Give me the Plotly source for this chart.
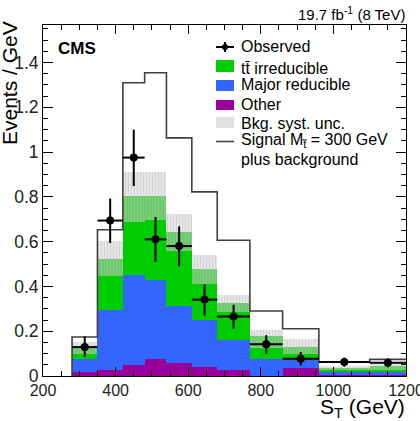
import plotly.graph_objects as go

# ---------------- data ----------------
bin_edges = [280, 350, 420, 480, 540, 610, 680, 770, 860, 960, 1100, 1200]
other = [0.017, 0.025, 0.047, 0.074, 0.057, 0.042, 0.028, 0.000, 0.037, 0.005, 0.005]
major_reducible = [0.060, 0.271, 0.405, 0.353, 0.255, 0.206, 0.131, 0.077, 0.035, 0.012, 0.013]
ttbar_irreducible = [0.049, 0.228, 0.350, 0.375, 0.331, 0.228, 0.168, 0.100, 0.058, 0.020, 0.026]
syst_low = [0.099, 0.445, 0.688, 0.695, 0.557, 0.412, 0.285, 0.126, 0.100, 0.027, 0.028]
syst_high = [0.151, 0.601, 0.911, 0.911, 0.725, 0.539, 0.360, 0.206, 0.163, 0.045, 0.062]
signal_plus_bkg = [0.174, 0.653, 1.309, 1.354, 1.063, 0.822, 0.606, 0.290, 0.211, 0.062, 0.074]
observed = [0.129, 0.694, 0.975, 0.610, 0.580, 0.341, 0.266, 0.142, 0.077, 0.062, 0.059]
obs_err_up = [0.048, 0.098, 0.125, 0.100, 0.088, 0.068, 0.052, 0.040, 0.030, 0.020, 0.020]
obs_err_dn = [0.044, 0.100, 0.127, 0.100, 0.090, 0.071, 0.055, 0.043, 0.030, 0.020, 0.020]
x_ticks = [200, 400, 600, 800, 1000, 1200]
y_ticks = [0, 0.2, 0.4, 0.6, 0.8, 1.0, 1.2, 1.4]

# ---------------- derived ----------------
centers = [(a + b) / 2 for a, b in zip(bin_edges[:-1], bin_edges[1:])]
widths = [b - a for a, b in zip(bin_edges[:-1], bin_edges[1:])]
half = [w / 2 for w in widths]
base_major = other[:]
base_tt = [o + m for o, m in zip(other, major_reducible)]
band_h = [h - l for l, h in zip(syst_low, syst_high)]

C_TT = "#00cc00"
C_MAJ = "#3366ff"
C_OTH = "#990099"
C_SIG = "#404040"
FONT = "Liberation Sans, Arial, Helvetica, sans-serif"

W, H = 420, 421
L, R, T, B = 43, 14, 25, 45


def fx(px):
    return (px - L) / (W - L - R)


def fy(py):
    return (H - B - py) / (H - T - B)


fig = go.Figure()
fig.add_bar(x=centers, y=other, width=widths, base=0,
            marker=dict(color=C_OTH, line=dict(width=0)), showlegend=False)
fig.add_bar(x=centers, y=major_reducible, width=widths, base=base_major,
            marker=dict(color=C_MAJ, line=dict(width=0)), showlegend=False)
fig.add_bar(x=centers, y=ttbar_irreducible, width=widths, base=base_tt,
            marker=dict(color=C_TT, line=dict(width=0)), showlegend=False)
fig.add_bar(x=centers, y=band_h, width=widths, base=syst_low,
            marker=dict(color="rgba(205,205,205,0.5)", line=dict(width=0),
                        pattern=dict(shape="|", fillmode="replace",
                                     bgcolor="rgba(205,205,205,0.5)",
                                     fgcolor="rgba(185,185,185,0.45)",
                                     size=3, solidity=0.35)),
            showlegend=False)

# signal + background step outline
xs = [bin_edges[0]] + bin_edges
ys = [0] + signal_plus_bkg + [signal_plus_bkg[-1]]
fig.add_scatter(x=xs, y=ys, mode="lines", line=dict(color=C_SIG, width=1.6, shape="hv"),
                showlegend=False, hoverinfo="skip")

# observed
fig.add_scatter(x=centers, y=observed, mode="markers",
                marker=dict(color="black", size=8),
                error_y=dict(type="data", symmetric=False, array=obs_err_up,
                             arrayminus=obs_err_dn, color="black", thickness=2, width=0),
                error_x=dict(type="data", array=half, color="black", thickness=2, width=0),
                showlegend=False)

axis_common = dict(showgrid=False, zeroline=False, showline=True, linecolor="black",
                   linewidth=1, mirror="ticks", ticks="inside", tickcolor="black",
                   tickwidth=1, ticklabeloverflow="allow", automargin=False)
fig.update_xaxes(range=[200, 1200], tickvals=x_ticks, ticklen=9,
                 tickfont=dict(family=FONT, size=16, color="#222"),
                 minor=dict(dtick=50, ticks="inside", ticklen=5, tickcolor="black"),
                 **axis_common)
fig.update_yaxes(range=[0, 1.567], tickvals=y_ticks, ticklen=10,
                 tickfont=dict(family=FONT, size=17.5, color="#222"),
                 minor=dict(dtick=0.05, ticks="inside", ticklen=5, tickcolor="black"),
                 **axis_common)

shapes = []
ann = []
LEG_SIZE = 16
tx = 239
# Observed
shapes.append(dict(type="line", xref="paper", yref="paper", x0=fx(216), x1=fx(234),
                   y0=fy(47), y1=fy(47), line=dict(color="black", width=2)))
shapes.append(dict(type="line", xref="paper", yref="paper", x0=fx(225), x1=fx(225),
                   y0=fy(42), y1=fy(52), line=dict(color="black", width=2)))
shapes.append(dict(type="circle", xref="paper", yref="paper", x0=fx(222), x1=fx(228),
                   y0=fy(50), y1=fy(44), fillcolor="black", line=dict(color="black", width=0)))
ann.append(("Observed", 47))
# boxes
for (c, y0, y1, txt, ty) in [(C_TT, 60, 72, "tt\u0304 irreducible", 68),
                             (C_MAJ, 80, 91, "Major reducible", 84),
                             (C_OTH, 100, 110, "Other", 104.5),
                             ("rgba(225,225,225,1)", 117, 128, "Bkg. syst. unc.", 123)]:
    shapes.append(dict(type="rect", xref="paper", yref="paper", x0=fx(216), x1=fx(234),
                       y0=fy(y1), y1=fy(y0), fillcolor=c, line=dict(width=0)))
    ann.append((txt, ty))
shapes.append(dict(type="line", xref="paper", yref="paper", x0=fx(216), x1=fx(234),
                   y0=fy(141.5), y1=fy(141.5), line=dict(color=C_SIG, width=1.6)))
ann.append(("Signal M<sub>t\u0303</sub> = 300 GeV", 140.5))
ann.append(("plus background", 159.5))

annotations = []
for txt, ty in ann:
    annotations.append(dict(text=txt, xref="paper", yref="paper", x=fx(tx), y=fy(ty),
                            xanchor="left", yanchor="middle", showarrow=False,
                            font=dict(family=FONT, size=LEG_SIZE, color="black")))

annotations.append(dict(text="<b>CMS</b>", xref="paper", yref="paper", x=fx(56), y=fy(49),
                        xanchor="left", yanchor="middle", showarrow=False,
                        font=dict(family=FONT, size=17, color="black")))
annotations.append(dict(text="19.7 fb<sup>-1</sup> (8 TeV)", xref="paper", yref="paper",
                        x=fx(407), y=fy(14), xanchor="right", yanchor="middle", showarrow=False,
                        font=dict(family=FONT, size=15, color="black")))
annotations.append(dict(text="S<sub>T</sub> (GeV)", xref="paper", yref="paper",
                        x=fx(407), y=fy(408), xanchor="right", yanchor="middle", showarrow=False,
                        font=dict(family=FONT, size=21, color="black")))
annotations.append(dict(text="Events / GeV", xref="paper", yref="paper", textangle=-90,
                        x=fx(9), y=fy(19), xanchor="center", yanchor="top", showarrow=False,
                        font=dict(family=FONT, size=21, color="black")))

fig.update_layout(width=W, height=H, margin=dict(l=L, r=R, t=T, b=B, autoexpand=False),
                  paper_bgcolor="white", plot_bgcolor="white", barmode="overlay",
                  bargap=0, shapes=shapes, annotations=annotations,
                  font=dict(family=FONT))

fig.write_html("out.html")
